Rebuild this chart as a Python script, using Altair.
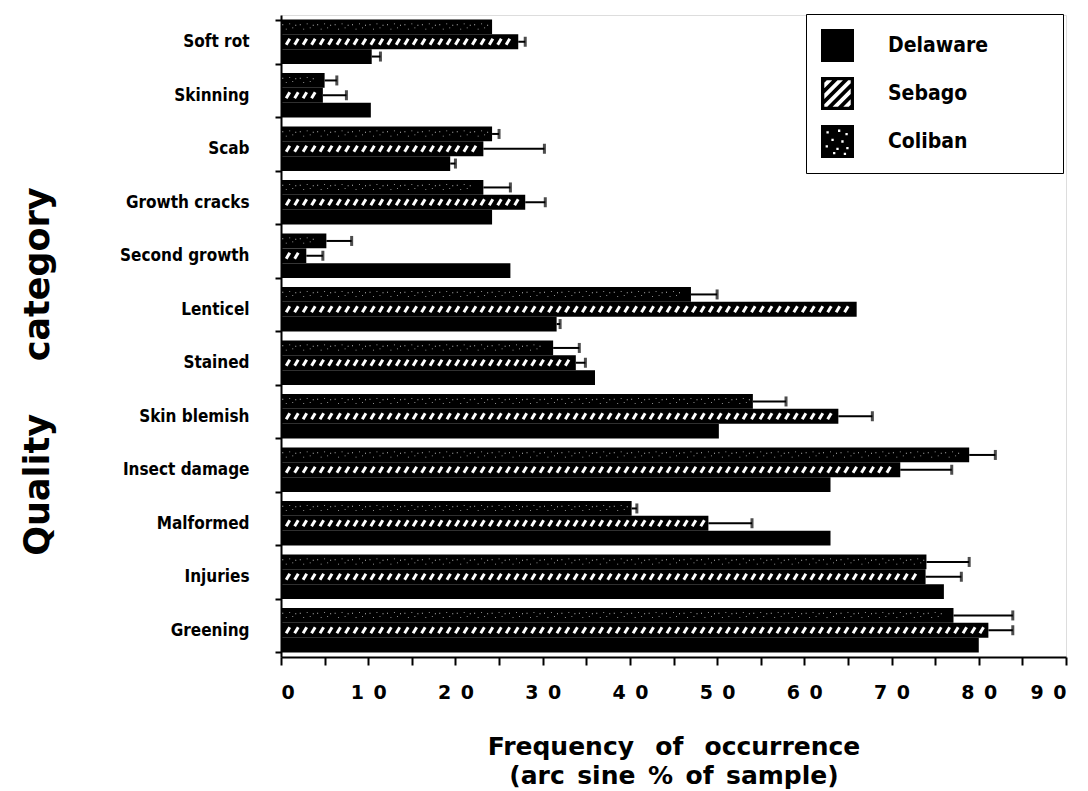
import altair as alt
import pandas as pd

categories = ["Soft rot", "Skinning", "Scab", "Growth cracks", "Second growth",
              "Lenticel", "Stained", "Skin blemish", "Insect damage",
              "Malformed", "Injuries", "Greening"]
series_names = ["Delaware", "Sebago", "Coliban"]

delaware = [10.4, 10.3, 19.4, 24.2, 26.3, 31.6, 36.0, 50.2, 63.0, 63.0, 76.0, 80.0]
delaware_err = [1.0, 0.0, 0.6, 0.0, 0.0, 0.4, 0.0, 0.0, 0.0, 0.0, 0.0, 0.0]
sebago = [27.2, 4.8, 23.2, 28.0, 2.9, 66.0, 33.8, 63.9, 71.0, 49.0, 73.9, 81.1]
sebago_err = [0.8, 2.7, 7.0, 2.3, 1.9, 0.0, 1.1, 3.9, 5.9, 5.0, 4.1, 2.8]
coliban = [24.2, 5.0, 24.2, 23.2, 5.2, 47.0, 31.2, 54.1, 78.9, 40.2, 74.0, 77.1]
coliban_err = [0.0, 1.4, 0.8, 3.1, 2.9, 3.0, 3.0, 3.8, 3.0, 0.6, 4.9, 6.8]

x_ticks = list(range(0, 95, 5))

rows = []
for name, vals, errs in [("Delaware", delaware, delaware_err),
                         ("Sebago", sebago, sebago_err),
                         ("Coliban", coliban, coliban_err)]:
    for c, v, e in zip(categories, vals, errs):
        rows.append({"category": c, "series": name, "value": v, "err": e, "hi": v + e})
df = pd.DataFrame(rows)


# ---------- legend symbol paths (pattern look-alikes) ----------
def clip(poly, fn):
    out = []
    n = len(poly)
    for i in range(n):
        p, q = poly[i], poly[(i + 1) % n]
        fp, fq = fn(p), fn(q)
        if fp >= 0:
            out.append(p)
        if (fp >= 0) != (fq >= 0):
            t = fp / (fp - fq)
            out.append((p[0] + t * (q[0] - p[0]), p[1] + t * (q[1] - p[1])))
    return out


def area(poly):
    s = 0
    for i in range(len(poly)):
        x1, y1 = poly[i]
        x2, y2 = poly[(i + 1) % len(poly)]
        s += x1 * y2 - x2 * y1
    return s


def to_path(poly, hole=False):
    if (area(poly) > 0) == hole:
        poly = poly[::-1]
    return "M" + "L".join(f"{x:.3f},{y:.3f}" for x, y in poly) + "Z"


outer = [(-1, -1), (1, -1), (1, 1), (-1, 1)]
solid_path = to_path(outer)

s = 0.8
inner = [(-s, -s), (s, -s), (s, s), (-s, s)]
hatch_path = to_path(outer)
for c1 in [-1.45, -0.8, -0.15, 0.5, 1.15]:
    c2 = c1 + 0.33
    p = clip(inner, lambda q, c1=c1: q[0] + q[1] - c1)
    p = clip(p, lambda q, c2=c2: c2 - (q[0] + q[1]))
    if len(p) >= 3:
        hatch_path += to_path(p, hole=True)

stipple_path = to_path(outer)
for (sx, sy) in [(-0.6, -0.55), (0.1, -0.65), (0.55, -0.45), (-0.3, -0.1),
                 (0.3, 0.0), (-0.65, 0.3), (0.0, 0.45), (0.6, 0.4),
                 (-0.2, 0.7), (0.45, 0.75)]:
    d = 0.07
    stipple_path += to_path([(sx - d, sy - d), (sx + d, sy - d), (sx + d, sy + d), (sx - d, sy + d)], hole=True)

speck_shape = ("M-0.85,-0.3h0.1v0.1h-0.1z M-0.45,0.2h0.1v0.1h-0.1z "
               "M-0.05,-0.4h0.1v0.1h-0.1z M0.3,0.05h0.1v0.1h-0.1z "
               "M0.65,-0.25h0.1v0.1h-0.1z")

# ---------- encodings ----------
lab_font = "Liberation Sans Narrow, DejaVu Sans Condensed, Liberation Sans, sans-serif"
title_font = "DejaVu Sans, Liberation Sans, sans-serif"
tick_font = "DejaVu Sans, Liberation Sans, sans-serif"

x_scale = alt.Scale(domain=[0, 90], nice=False)
y_enc = alt.Y("category:N", sort=categories,
              scale=alt.Scale(domain=categories, paddingInner=0.17, paddingOuter=0.085),
              axis=alt.Axis(title="Quality\u2003\u2002category", titleFont=title_font,
                            titleFontSize=35, titleFontWeight="bold", titleColor="black",
                            titlePadding=64, titleY=356,
                            labelFont=lab_font, labelFontSize=17, labelFontWeight="bold",
                            labelColor="black", labelPadding=26, tickSize=6, tickWidth=2,
                            tickColor="black", domainColor="black", domainWidth=2,
                            tickBand="extent"))
yoff = alt.YOffset("series:N", sort=["Coliban", "Sebago", "Delaware"],
                   scale=alt.Scale(domain=["Coliban", "Sebago", "Delaware"], paddingInner=0, paddingOuter=0))

x_axis = alt.Axis(values=x_ticks,
                  labelExpr="datum.value % 10 != 0 ? '' : (datum.value == 0 ? '0' : format(floor(datum.value/10),'d') + '\u2002' + '0')",
                  labelFont=tick_font, labelFontSize=19, labelFontWeight="bold",
                  labelColor="black", labelPadding=18, tickSize=8, tickWidth=2,
                  tickColor="black", domainColor="black", domainWidth=2,
                  title=["Frequency\u2002 of\u2002 occurrence", "(arc\u2002sine\u2002%\u2002of\u2002sample)"],
                  titleFont=title_font, titleFontSize=25, titleFontWeight="bold",
                  titleColor="black", titlePadding=32, titleLineHeight=29, grid=False)

base = alt.Chart(df)

bars = base.mark_bar(fill="black", stroke=None).encode(
    x=alt.X("value:Q", scale=x_scale, axis=x_axis),
    y=y_enc,
    yOffset=yoff,
)

hatch = base.transform_filter(alt.datum.series == "Sebago").transform_calculate(
    h="sequence(0.8, datum.value - 0.45, 0.97)"
).transform_flatten(["h"]).mark_point(
    shape="M-0.3,0.5L0.3,-0.5", filled=False, stroke="white", strokeWidth=3, size=144, opacity=1
).encode(x=alt.X("h:Q", scale=x_scale), y=alt.Y("category:N", sort=categories), yOffset=yoff)

stipple = base.transform_filter(alt.datum.series == "Coliban").transform_calculate(
    h="sequence(1.0, datum.value - 0.6, 2.0)"
).transform_flatten(["h"]).mark_point(
    shape=speck_shape, filled=True, fill="white", strokeWidth=0, size=300, opacity=0.85
).encode(x=alt.X("h:Q", scale=x_scale), y=alt.Y("category:N", sort=categories), yOffset=yoff)

err_data = base.transform_filter(alt.datum.err > 0)
err_rule = err_data.mark_rule(color="black", strokeWidth=2).encode(
    x=alt.X("value:Q", scale=x_scale), x2="hi:Q",
    y=alt.Y("category:N", sort=categories), yOffset=yoff)
err_cap = err_data.mark_tick(color="black", thickness=3, size=10, orient="vertical").encode(
    x=alt.X("hi:Q", scale=x_scale), y=alt.Y("category:N", sort=categories), yOffset=yoff)

pad = "\u2800" * 4
legend_layer = base.mark_point(filled=True, color="black", opacity=0).encode(
    x=alt.X("value:Q", scale=x_scale),
    y=alt.Y("category:N", sort=categories),
    yOffset=yoff,
    shape=alt.Shape("series:N",
                    scale=alt.Scale(domain=series_names,
                                    range=[solid_path, hatch_path, stipple_path]),
                    legend=alt.Legend(title=None, orient="none", legendX=525, legendY=-1,
                                      symbolSize=1089, symbolOpacity=1,
                                      symbolFillColor="black", symbolStrokeWidth=0,
                                      labelFont=lab_font, labelFontSize=21,
                                      labelFontWeight="bold", labelColor="black",
                                      labelOffset=34, rowPadding=15, padding=15,
                                      labelExpr=f"datum.label + '{pad}'",
                                      labelLimit=400,
                                      strokeColor="black", fillColor="white")),
)

chart = alt.layer(bars, hatch, stipple, err_rule, err_cap, legend_layer).properties(
    width=785, height=642,
    padding={"left": 281, "top": 15, "right": 22, "bottom": 134},
    autosize=alt.AutoSizeParams(type="none"),
).configure_view(stroke=None).configure_legend(strokeWidth=2.5).configure(background="white")

chart.save("out.html", embed_options={"renderer": "svg", "actions": False})
